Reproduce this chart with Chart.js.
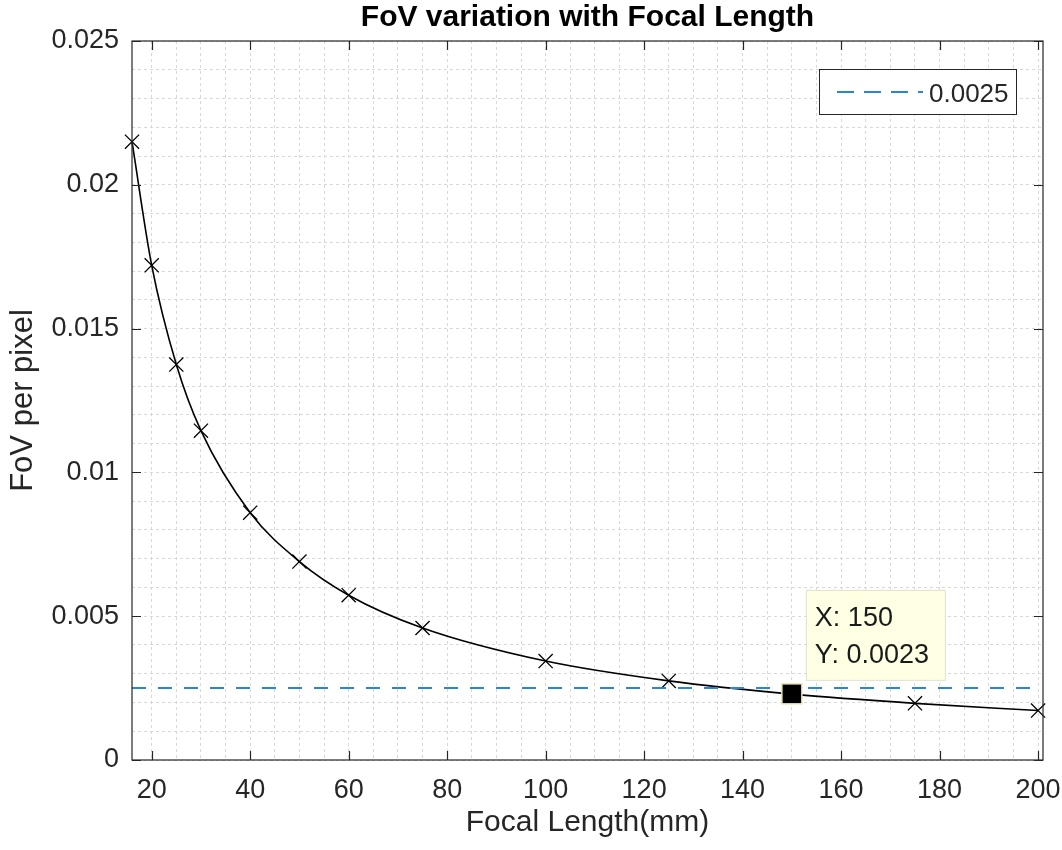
<!DOCTYPE html>
<html>
<head>
<meta charset="utf-8">
<script src="https://cdn.jsdelivr.net/npm/chart.js@4/dist/chart.umd.min.js"></script>
<style>
  html, body { margin: 0; padding: 0; background: #ffffff; }
</style>
</head>
<body>
<canvas id="fovChart" width="1062" height="850"></canvas>
<script>
// Data
const focalLength = [16, 20, 25, 30, 40, 50, 60, 75, 100, 125, 150, 175, 200];
const fovPerPixel = [0.0215, 0.0172, 0.01375, 0.01145, 0.0086, 0.0069, 0.00573, 0.00459, 0.00344, 0.00275, 0.00229, 0.00197, 0.00172];
const threshold = 0.0025;
const thresholdLabel = "0.0025";
const tipX = 150;
const tipY = 0.0023;
const xMajorTicks = [20, 40, 60, 80, 100, 120, 140, 160, 180, 200];
const yMajorTicks = [0, 0.005, 0.01, 0.015, 0.02, 0.025];

const FONT = "'Liberation Sans', Arial, Helvetica, sans-serif";
const AXIS_COLOR = "#262626";
const BLUE = "rgb(40, 135, 205)";

// minor grid positions (every 5 mm, every 0.001)
const xGrid = [];
for (let v = 20; v <= 200; v += 5) xGrid.push(v);
const yGrid = [];
for (let i = 0; i <= 25; i++) yGrid.push(i / 1000);

// Frame, inward ticks, legend box and data tip, MATLAB style
const matlabExtras = {
  id: "matlabExtras",
  afterDraw(chart) {
    const { ctx, chartArea: a, scales: { x, y } } = chart;
    ctx.save();

    // axes box
    ctx.strokeStyle = AXIS_COLOR;
    ctx.lineWidth = 1.2;
    ctx.setLineDash([]);
    ctx.strokeRect(a.left, a.top, a.right - a.left, a.bottom - a.top);

    // inward major ticks on all four sides
    const tl = 9;
    ctx.beginPath();
    xMajorTicks.forEach((v) => {
      const px = Math.round(x.getPixelForValue(v)) + 0.5;
      ctx.moveTo(px, a.bottom); ctx.lineTo(px, a.bottom - tl);
      ctx.moveTo(px, a.top); ctx.lineTo(px, a.top + tl);
    });
    yMajorTicks.forEach((v) => {
      const py = Math.round(y.getPixelForValue(v)) + 0.5;
      ctx.moveTo(a.left, py); ctx.lineTo(a.left + tl, py);
      ctx.moveTo(a.right, py); ctx.lineTo(a.right - tl, py);
    });
    ctx.stroke();

    // legend
    const lw = 197, lh = 45;
    const lx = a.right - 27 - lw, ly = a.top + 28;
    ctx.fillStyle = "#ffffff";
    ctx.fillRect(lx, ly, lw, lh);
    ctx.strokeStyle = AXIS_COLOR;
    ctx.lineWidth = 1;
    ctx.strokeRect(lx + 0.5, ly + 0.5, lw, lh);
    ctx.strokeStyle = BLUE;
    ctx.lineWidth = 2;
    ctx.setLineDash([17, 10]);
    ctx.beginPath();
    ctx.moveTo(lx + 18, ly + 23);
    ctx.lineTo(lx + 104, ly + 23);
    ctx.stroke();
    ctx.setLineDash([]);
    ctx.fillStyle = AXIS_COLOR;
    ctx.font = "26px " + FONT;
    ctx.textBaseline = "alphabetic";
    ctx.textAlign = "left";
    ctx.fillText(thresholdLabel, lx + 110, ly + 33);

    // data tip
    const px = x.getPixelForValue(tipX);
    const py = y.getPixelForValue(tipY);
    ctx.fillStyle = "#000000";
    ctx.fillRect(px - 10, py - 10, 20, 20);
    ctx.strokeStyle = "rgb(235, 230, 180)";
    ctx.lineWidth = 1.5;
    ctx.strokeRect(px - 10, py - 10, 20, 20);

    const bx = px + 14, by = py - 104;
    ctx.fillStyle = "rgb(255, 255, 228)";
    ctx.fillRect(bx, by, 139, 90);
    ctx.strokeStyle = "rgb(225, 225, 205)";
    ctx.lineWidth = 1;
    ctx.strokeRect(bx + 0.5, by + 0.5, 139, 90);
    ctx.fillStyle = "#1a1a1a";
    ctx.font = "27px " + FONT;
    ctx.fillText("X: " + tipX, bx + 9, by + 36);
    ctx.fillText("Y: " + tipY, bx + 9, by + 73);

    ctx.restore();
  },
};

const ctx = document.getElementById("fovChart").getContext("2d");
new Chart(ctx, {
  type: "line",
  data: {
    datasets: [
      {
        label: thresholdLabel,
        data: [
          { x: focalLength[0], y: threshold },
          { x: focalLength[focalLength.length - 1], y: threshold },
        ],
        borderColor: BLUE,
        borderWidth: 2,
        borderDash: [14, 12],
        pointRadius: 0,
        fill: false,
      },
      {
        label: "FoV",
        data: focalLength.map((f, i) => ({ x: f, y: fovPerPixel[i] })),
        borderColor: "#000000",
        borderWidth: 1.6,
        cubicInterpolationMode: "monotone",
        pointStyle: "crossRot",
        pointRadius: 10,
        pointBorderColor: "#000000",
        pointBackgroundColor: "rgba(0,0,0,0)",
        pointBorderWidth: 1.3,
        clip: false,
        fill: false,
      },
    ],
  },
  options: {
    responsive: false,
    animation: false,
    layout: { padding: { top: 0, right: 19, left: 0, bottom: 0 } },
    plugins: {
      legend: { display: false },
      tooltip: { enabled: false },
      title: {
        display: true,
        fullSize: false,
        text: "FoV variation with Focal Length",
        color: "#000000",
        font: { family: FONT, size: 30, weight: "bold" },
        padding: { top: 0, bottom: 5 },
      },
    },
    scales: {
      x: {
        type: "linear",
        min: 16,
        max: 201,
        afterBuildTicks: (s) => { s.ticks = xGrid.map((v) => ({ value: v })); },
        afterFit: (s) => { s.height = 90; s.paddingLeft = 0; s.paddingRight = 0; },
        ticks: {
          autoSkip: false,
          maxRotation: 0,
          padding: 14,
          color: AXIS_COLOR,
          font: { family: FONT, size: 27 },
          callback: (v) => (xMajorTicks.includes(v) ? String(v) : ""),
        },
        grid: { color: "#d8d8d8", lineWidth: 1, drawTicks: false },
        border: { display: false, dash: [3, 3] },
        title: {
          display: true,
          text: "Focal Length(mm)",
          color: AXIS_COLOR,
          font: { family: FONT, size: 30 },
          padding: { top: 0, bottom: 9 },
        },
      },
      y: {
        type: "linear",
        min: 0,
        max: 0.025,
        afterBuildTicks: (s) => { s.ticks = yGrid.map((v) => ({ value: v })); },
        afterFit: (s) => { s.width = 132; },
        ticks: {
          autoSkip: false,
          padding: 13,
          color: AXIS_COLOR,
          font: { family: FONT, size: 27 },
          callback: (v) => (yMajorTicks.includes(v) ? String(v) : ""),
        },
        grid: { color: "#d8d8d8", lineWidth: 1, drawTicks: false },
        border: { display: false, dash: [3, 3] },
        title: {
          display: true,
          text: "FoV per pixel",
          color: AXIS_COLOR,
          font: { family: FONT, size: 31 },
          padding: { top: 5, bottom: 0 },
        },
      },
    },
  },
  plugins: [matlabExtras],
});
</script>
</body>
</html>
